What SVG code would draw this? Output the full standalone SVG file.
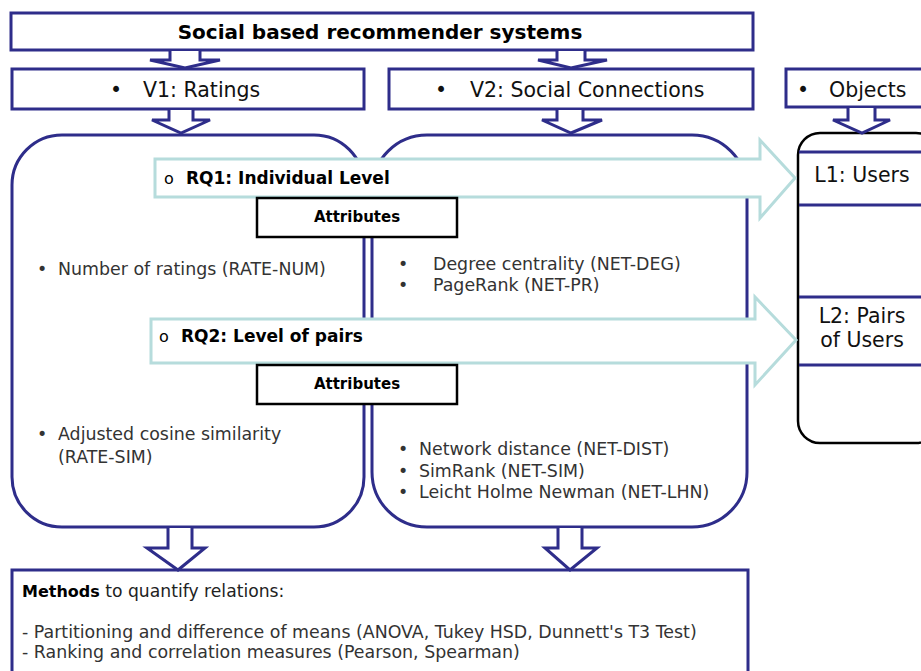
<svg xmlns="http://www.w3.org/2000/svg" width="921" height="671" viewBox="0 0 921 671">
<style>
.nv{fill:#fff;stroke:#2e2d8a;stroke-width:3}
.bk{fill:#fff;stroke:#000;stroke-width:2.5}
.lb{fill:#fff;stroke:#b6dcdc;stroke-width:3}
.ln{stroke:#2e2d8a;stroke-width:3;fill:none}
.ar{fill:#fff;stroke:#2e2d8a;stroke-width:3;stroke-linejoin:miter}
text{font-family:"DejaVu Sans",Verdana,sans-serif}
.t{font-size:20.5px;fill:#111}
.b{font-weight:bold;fill:#000}
.s{font-size:17.4px;fill:#333}
</style>
<rect width="921" height="671" fill="#fff"/>

<g id="top">
<rect class="nv" x="11" y="13" width="742" height="37"/>
<text class="b" x="380" y="39" font-size="20" text-anchor="middle">Social based recommender systems</text>
</g>
<g id="v1">
<rect class="nv" x="12" y="69" width="352" height="40"/>
<text class="t" x="110" y="97">•</text>
<text class="t" x="143" y="97">V1: Ratings</text>
</g>
<g id="v2">
<rect class="nv" x="389" y="69" width="364" height="40"/>
<text class="t" x="435" y="97">•</text>
<text class="t" x="470" y="97">V2: Social Connections</text>
</g>
<g id="objects">
<rect class="nv" x="786" y="69" width="150" height="38"/>
<text class="t" x="797" y="97">•</text>
<text class="t" x="829" y="97">Objects</text>
</g>

<g id="v1-box">
<rect class="nv" x="12" y="135" width="352" height="392" rx="50" ry="50"/>
<text class="s" x="37" y="275">•</text>
<text class="s" x="58" y="275">Number of ratings (RATE-NUM)</text>
<text class="s" x="37" y="440">•</text>
<text class="s" x="58" y="440">Adjusted cosine similarity</text>
<text class="s" x="58" y="463">(RATE-SIM)</text>
</g>
<g id="v2-box">
<rect class="nv" x="372" y="135" width="375" height="392" rx="55" ry="55"/>
<text class="s" x="398" y="270">•</text>
<text class="s" x="433" y="270">Degree centrality (NET-DEG)</text>
<text class="s" x="398" y="291">•</text>
<text class="s" x="433" y="291">PageRank (NET-PR)</text>
<text class="s" x="398" y="455">•</text>
<text class="s" x="419" y="455">Network distance (NET-DIST)</text>
<text class="s" x="398" y="477">•</text>
<text class="s" x="419" y="477">SimRank (NET-SIM)</text>
<text class="s" x="398" y="498">•</text>
<text class="s" x="419" y="498">Leicht Holme Newman (NET-LHN)</text>
</g>

<g id="levels">
<rect class="bk" x="798" y="133" width="140" height="310" rx="22" ry="22"/>
<line class="ln" x1="799" y1="152" x2="921" y2="152"/>
<line class="ln" x1="799" y1="205" x2="921" y2="205"/>
<line class="ln" x1="799" y1="297" x2="921" y2="297"/>
<line class="ln" x1="799" y1="365" x2="921" y2="365"/>
<text class="t" x="862" y="182" text-anchor="middle">L1: Users</text>
<text class="t" x="862" y="323" text-anchor="middle">L2: Pairs</text>
<text class="t" x="862" y="347" text-anchor="middle">of Users</text>
</g>

<g id="rq1">
<path class="lb" d="M155,159 H760 V140 L795,178 L760,218 V197 H155 Z"/>
<text x="164" y="184" font-size="16" fill="#000">o</text>
<text class="b" x="186" y="184" font-size="17">RQ1: Individual Level</text>
</g>
<g id="attr1">
<rect class="bk" x="257" y="198" width="200" height="39"/>
<text class="b" x="357" y="222" font-size="15" text-anchor="middle">Attributes</text>
</g>
<g id="rq2">
<path class="lb" d="M151,319 H755 V297 L796,340 L755,385 V363 H151 Z"/>
<text x="159" y="342" font-size="16" fill="#000">o</text>
<text class="b" x="181" y="342" font-size="17">RQ2: Level of pairs</text>
</g>
<g id="attr2">
<rect class="bk" x="257" y="365" width="200" height="39"/>
<text class="b" x="357" y="389" font-size="15" text-anchor="middle">Attributes</text>
</g>

<g id="methods">
<rect class="nv" x="12" y="570" width="736" height="120"/>
<text x="22" y="597" font-size="17.2" fill="#222"><tspan font-weight="bold" fill="#000" font-size="16">Methods</tspan> to quantify relations:</text>
<text class="s" x="22" y="638">- Partitioning and difference of means (ANOVA, Tukey HSD, Dunnett's T3 Test)</text>
<text class="s" x="22" y="658">- Ranking and correlation measures (Pearson, Spearman)</text>
</g>

<g id="connectors">
<path class="ar" d="M170,51 V60 H150 L185,68 L220,60 H200 V51"/>
<path class="ar" d="M557,51 V60 H538 L571,68 L607,60 H585 V51"/>
<path class="ar" d="M169,110 V120 H152 L181,133 L210,120 H193 V110"/>
<path class="ar" d="M557,110 V120 H542 L571,133 L602,120 H583 V110"/>
<path class="ar" d="M848,108 V120 H833 L862,133 L890,120 H875 V108"/>
<path class="ar" d="M168,528 V548 H147 L178,570 L205,548 H192 V528"/>
<path class="ar" d="M558,528 V548 H545 L570,570 L597,548 H582 V528"/>
</g>
</svg>
